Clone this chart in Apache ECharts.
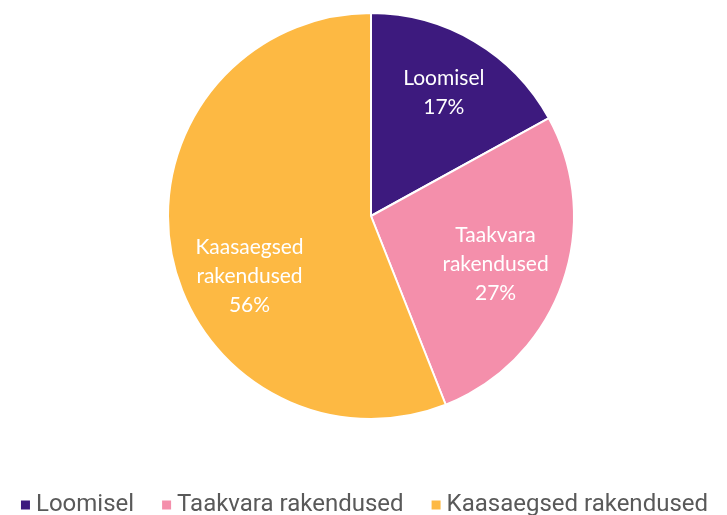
<!DOCTYPE html>
<html>
<head>
<meta charset="utf-8">
<script src="https://cdn.jsdelivr.net/npm/echarts@6/dist/echarts.min.js"></script>
<style>
  html, body { margin: 0; padding: 0; background: #fff; }
  #main { width: 727px; height: 515px; }
</style>
</head>
<body>
<div id="main"></div>
<script>
// andmed
const categories = ['Loomisel', 'Taakvara rakendused', 'Kaasaegsed rakendused'];
const labelNames = ['Loomisel', 'Taakvara\nrakendused', 'Kaasaegsed\nrakendused'];
const values = [17, 27, 56];
const colors = ['#3d1a7e', '#f48fab', '#fdb943'];

const myChart = echarts.init(document.getElementById('main'));

const pieData = categories.map((name, i) => ({
    name: name,
    value: values[i],
    itemStyle: { color: colors[i] }
}));

// label series (transparent) so the labels sit further out than 'inside' would put them
const labelOffsets = [[0, 0], [-10, 0], [19, 33]];
const labelData = categories.map((name, i) => ({
    name: name,
    value: values[i],
    label: { offset: labelOffsets[i] }
}));

const option = {
    animation: false,
    legend: {
        top: 488,
        left: 'center',
        itemWidth: 11,
        itemHeight: 11,
        itemGap: 26,
        icon: 'rect',
        textStyle: { fontFamily: 'Roboto', fontSize: 24, color: '#595959' },
        data: categories
    },
    series: [
        {
            type: 'pie',
            center: [371, 216],
            radius: 203,
            startAngle: 90,
            clockwise: true,
            silent: true,
            itemStyle: { borderColor: '#fff', borderWidth: 2 },
            label: { show: false },
            labelLine: { show: false },
            data: pieData
        },
        {
            type: 'pie',
            center: [371, 216],
            radius: 280,
            startAngle: 90,
            clockwise: true,
            silent: true,
            itemStyle: { color: 'rgba(0,0,0,0)' },
            label: {
                show: true,
                position: 'inside',
                color: '#fff',
                fontFamily: 'Lato',
                fontSize: 21,
                lineHeight: 29,
                formatter: (p) => labelNames[p.dataIndex] + '\n' + p.value + '%'
            },
            labelLine: { show: false },
            data: labelData
        }
    ]
};

myChart.setOption(option);
</script>
</body>
</html>
